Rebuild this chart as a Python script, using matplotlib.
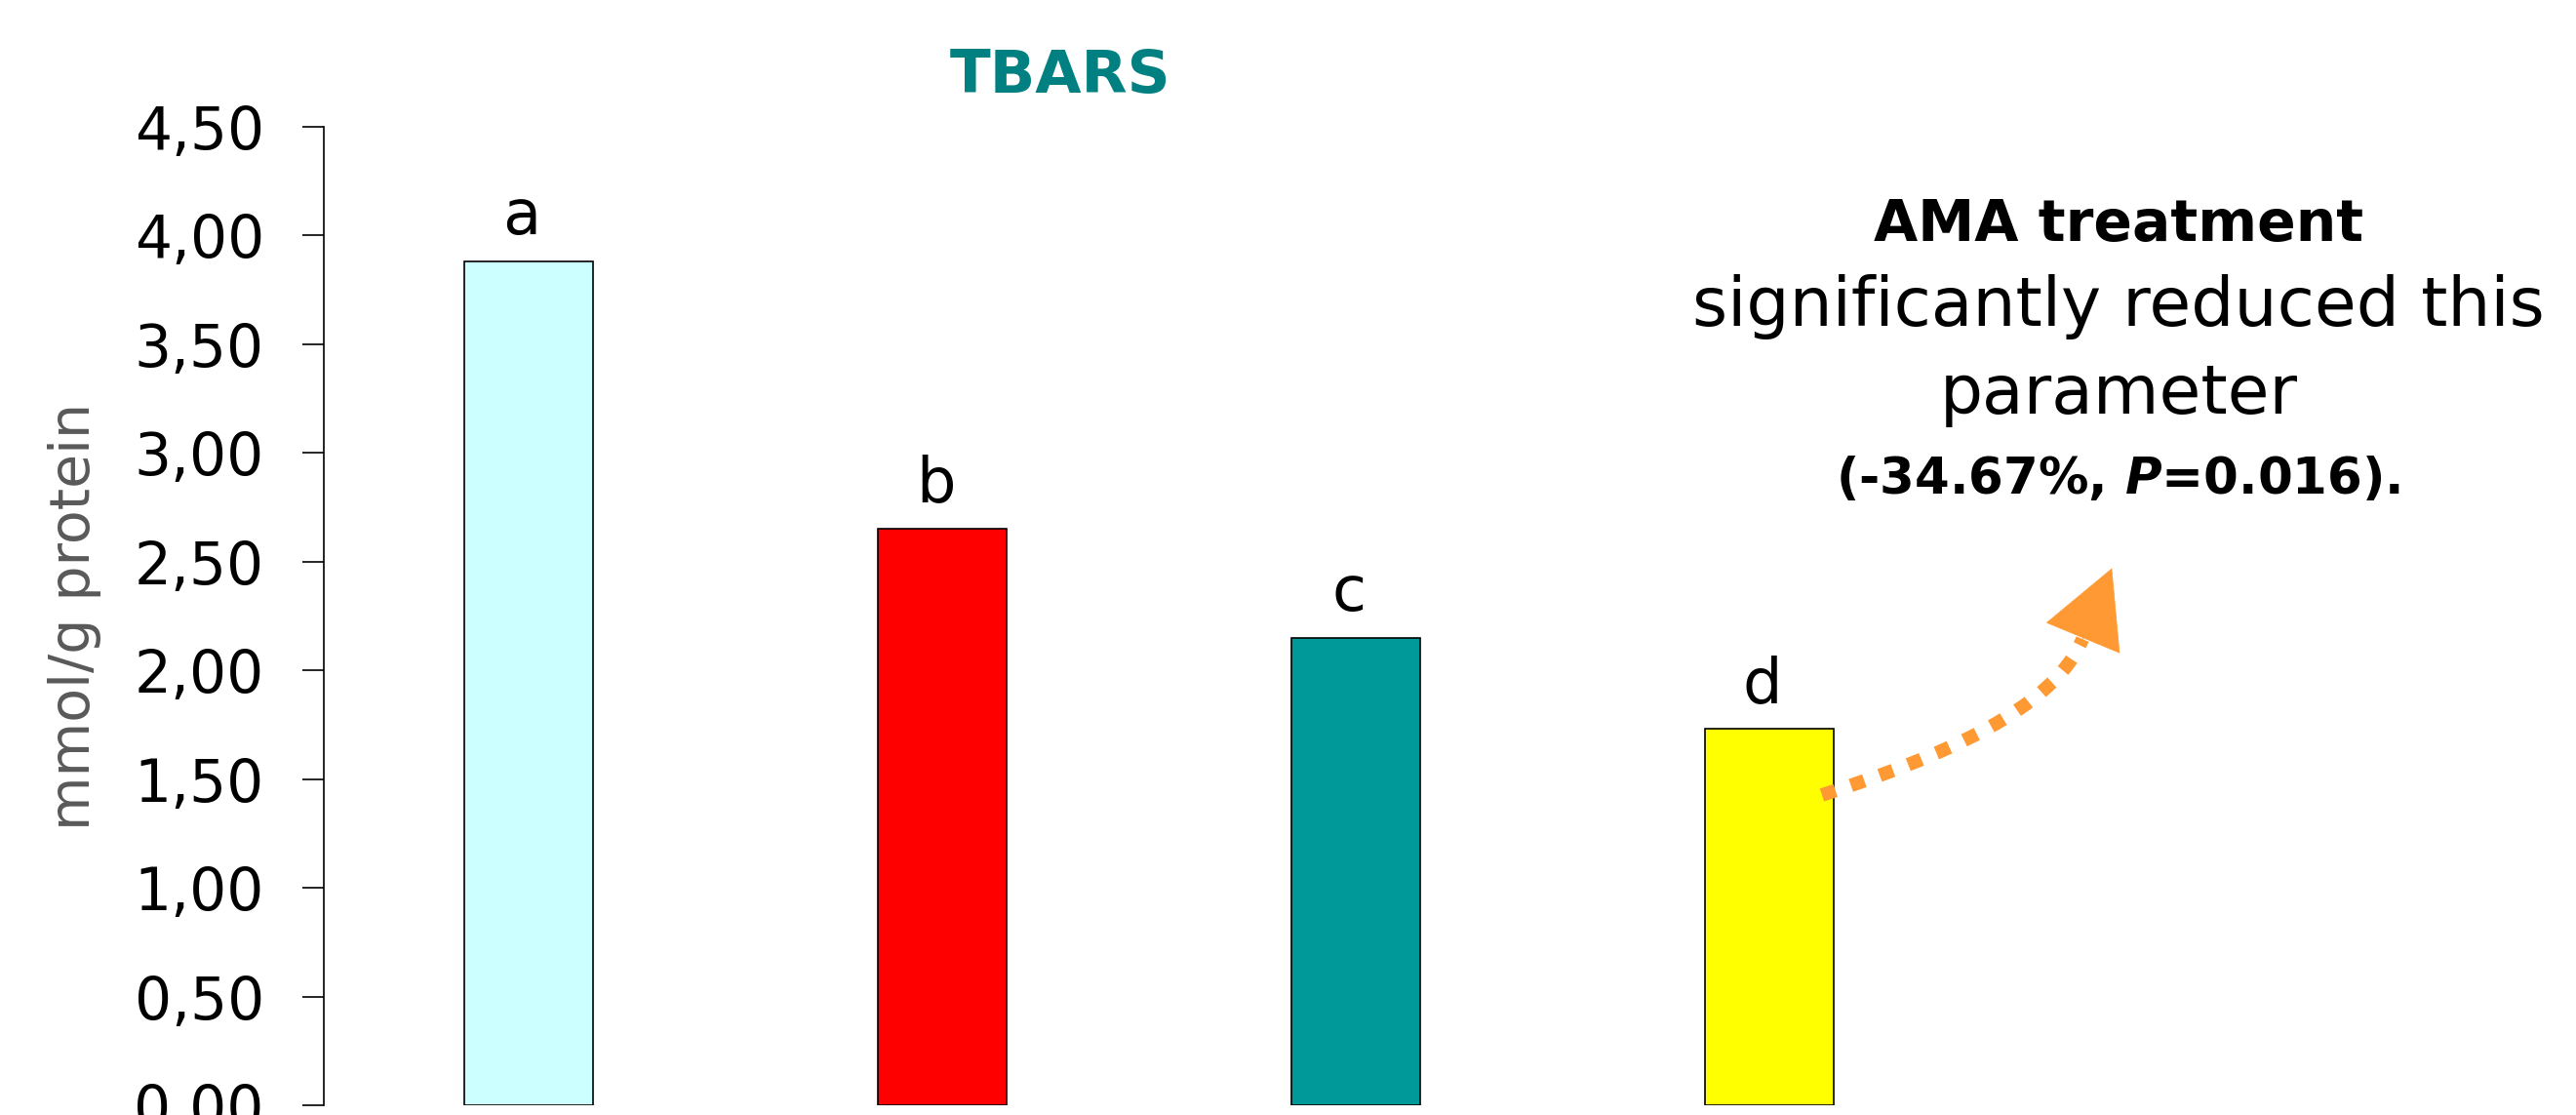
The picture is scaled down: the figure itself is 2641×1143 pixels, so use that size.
import matplotlib
matplotlib.use("Agg")
import matplotlib.pyplot as plt
from matplotlib.patches import FancyArrowPatch
from matplotlib.path import Path
from matplotlib.ticker import FuncFormatter

# TBARS levels per group (mmol/g protein)
groups = ["G1", "G2", "G3", "G4"]
tbars = [3.88, 2.65, 2.15, 1.73]
letters = ["a", "b", "c", "d"]
bar_colors = ["#CCFFFF", "#FF0000", "#009999", "#FFFF00"]
yticks = [0.0, 0.5, 1.0, 1.5, 2.0, 2.5, 3.0, 3.5, 4.0, 4.5]

plt.rcParams["font.family"] = ["DejaVu Sans"]

fig = plt.figure(figsize=(26.41, 11.43), dpi=100)
ax = fig.add_axes([0.1257, 0.00875, 0.8743, 0.8775])

x = list(range(len(groups)))
ax.bar(x, tbars, width=0.31, color=bar_colors, edgecolor="black",
       linewidth=1.2, zorder=2)

for xi, val, lab in zip(x, tbars, letters):
    ax.annotate(lab, (xi, val), xytext=(-5, 20), textcoords="offset points",
                ha="center", va="baseline", fontsize=46, color="black")

ax.set_xlim(-0.495, 4.95)
ax.set_ylim(0, 4.5)
ax.set_yticks(yticks)
ax.yaxis.set_major_formatter(FuncFormatter(lambda v, p: f"{v:.2f}".replace(".", ",")))
ax.tick_params(axis="y", direction="out", length=16, width=1.2, pad=28,
               labelsize=43, colors="black")
ax.set_xticks([])
for s in ["top", "right", "bottom"]:
    ax.spines[s].set_visible(False)
ax.spines["left"].set_linewidth(1.2)

ax.set_ylabel("mmol/g protein", fontsize=41, color="#595959", labelpad=24)

fig.text(1087 / 2641, 1 - 78 / 1143, "TBARS", ha="center", va="center",
         fontsize=44, fontweight="bold", color="#008080")

# note on the right
tx = 2172 / 2641
fig.text(tx, 1 - 230 / 1143, "AMA treatment", ha="center", va="center",
         fontsize=42, fontweight="bold")
fig.text(tx, 1 - 315 / 1143, "significantly reduced this", ha="center",
         va="center", fontsize=50)
fig.text(tx, 1 - 405 / 1143, "parameter", ha="center", va="center", fontsize=50)
fig.text(tx, 1 - 492 / 1143, r"(-34.67%, $\bfit{P}$=0.016).", ha="center",
         va="center", fontsize=37, fontweight="bold")

# dotted curved arrow leaving the last bar toward the note
arrow_color = "#FF9933"
bx, by = x[3], tbars[3]
p0 = (bx + 0.127, by - 0.303)
c1 = (bx + 0.420, by - 0.124)
c2 = (bx + 0.686, by + 0.091)
p3 = (bx + 0.757, by + 0.414)
tip = (bx + 0.828, by + 0.740)

curve_path = Path([p0, c1, c2, p3],
                  [Path.MOVETO, Path.CURVE4, Path.CURVE4, Path.CURVE4])
curve = FancyArrowPatch(path=curve_path, arrowstyle="-", color=arrow_color,
                        linewidth=10, linestyle=(0, (1.05, 1.2)),
                        capstyle="butt", zorder=5)
ax.add_patch(curve)
head = FancyArrowPatch(p3, tip, arrowstyle="-|>,head_length=2.75,head_width=1.45",
                       mutation_scale=20, color=arrow_color, linewidth=0.5,
                       shrinkA=0, shrinkB=0, zorder=5)
ax.add_patch(head)

fig.savefig("out.png", dpi=100)
